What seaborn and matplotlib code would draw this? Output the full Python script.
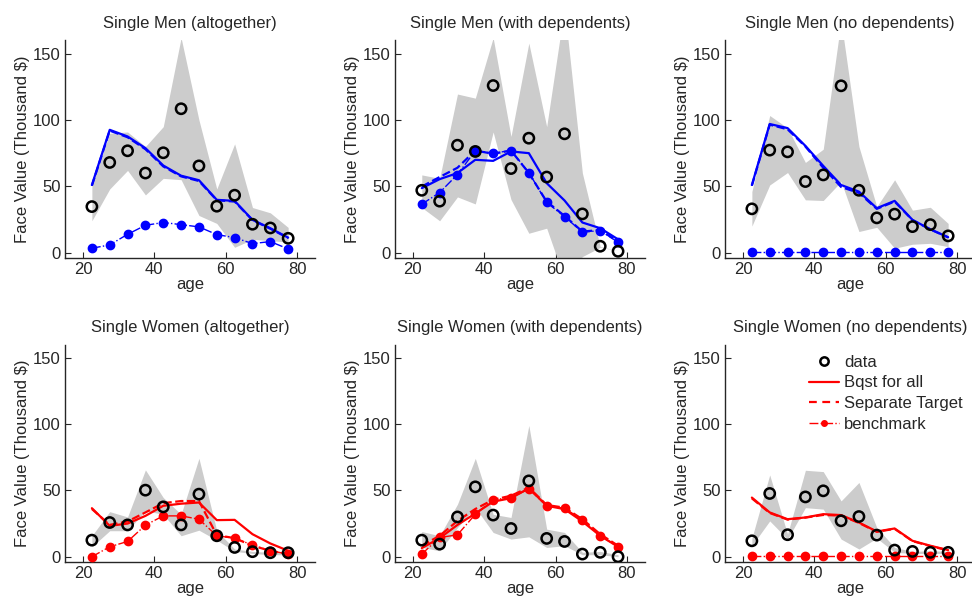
import matplotlib
matplotlib.use("Agg")
import matplotlib.pyplot as plt
from matplotlib.lines import Line2D
import numpy as np
import seaborn as sns

# --------------------------------------------------------------------------- #
# Data (thousand $), one value per 5-year age group
# --------------------------------------------------------------------------- #
ages = [22.5, 27.5, 32.5, 37.5, 42.5, 47.5, 52.5, 57.5, 62.5, 67.5, 72.5, 77.5]

titles = [
    "Single Men (altogether)", "Single Men (with dependents)", "Single Men (no dependents)",
    "Single Women (altogether)", "Single Women (with dependents)", "Single Women (no dependents)",
]

men_all_data = [34.7, 68, 76.8, 60, 75.3, 108.5, 65.4, 35, 43.3, 21.4, 18.6, 10.8]
men_all_bqst = [51, 92.6, 87.6, 78.8, 65.7, 58, 54.6, 39.8, 39, 24.7, 18.4, 11.3]
men_all_sep = [50.5, 92, 87, 78, 65, 57.5, 54, 39.5, 38.5, 24.5, 18, 11]
men_all_bench = [3.3, 5.8, 13.8, 20.6, 22.7, 21.1, 19.4, 13.6, 11.3, 6.8, 8.3, 2.8]
men_all_hi = [51, 90, 91, 80, 95, 162, 100, 48, 82, 34, 30, 19]
men_all_lo = [24, 48, 62, 43.5, 56, 55, 28, 22, 4, 10, 9, 8]

men_dep_data = [47, 38.8, 81, 76.3, 126, 63.4, 86.3, 57, 89.6, 29.2, 4.8, 1]
men_dep_bqst = [48.6, 55.4, 60, 70, 69.2, 76.3, 75, 52.4, 39.3, 22.7, 18.4, 10]
men_dep_sep = [49.8, 57, 64, 77, 74.5, 77, 60, 38.5, 27.7, 15.9, 17, 8.3]
men_dep_bench = [36.5, 45.3, 58.9, 76.8, 75, 77, 60.4, 37.8, 27.2, 15.4, 16.6, 7.8]
men_dep_hi = [58.6, 56, 119.6, 116.5, 162, 87.6, 158, 95, 185, 60, 4.5, 1.5]
men_dep_lo = [34, 24, 42, 36.7, 91, 40, 14.6, 18.4, -20, -3, 4, 1.5]

men_nod_data = [33, 77.3, 76, 53.6, 58.6, 125.8, 47, 26.2, 29, 19.6, 21.1, 12.6]
men_nod_bqst = [51, 97, 93.9, 80.5, 65.4, 51, 46, 33.5, 39, 24.7, 17.6, 11.6]
men_nod_sep = [50.5, 96.5, 93, 80, 64, 49.5, 45, 33, 38.5, 24.5, 17.5, 11.5]
men_nod_bench = [0.3, 0.3, 0.3, 0.3, 0.3, 0.3, 0.3, 0.3, 0.3, 0.3, 0.3, 0.3]
men_nod_hi = [46, 103.4, 94, 68, 78, 175, 80, 34.7, 54.9, 32, 34.2, 22]
men_nod_lo = [20, 51, 60.4, 39.8, 39.3, 53.6, 15.9, 19.1, 3.3, 6.3, 7, 4.5]

wom_all_data = [12.5, 25.8, 24, 50.2, 37.6, 24, 47.2, 15.8, 7, 3.8, 3, 3]
wom_all_bqst = [36.6, 23.3, 25, 30.8, 38.4, 40, 40.9, 27.6, 27.8, 17, 10, 4.5]
wom_all_sep = [36, 24, 26.6, 33.4, 40.4, 42, 42, 16.3, 14, 8.3, 4.5, 2]
wom_all_bench = [0, 7.5, 11.5, 23.8, 30.8, 30.8, 28.3, 15.8, 14, 8.8, 4.5, 2]
wom_all_hi = [15.8, 34, 30, 65.5, 44.6, 32, 74.2, 19.6, 5.8, 4, 3.3, 3.3]
wom_all_lo = [7.5, 19.6, 19.6, 34.6, 32, 15.8, 20, 12.5, 4, 2.5, 1.5, 1.5]

wom_dep_data = [12.5, 9.5, 30, 52.7, 31.4, 21.3, 57.2, 13.8, 11.5, 2, 3.3, 0]
wom_dep_bqst = [6.5, 14, 24, 32.6, 41.6, 44.1, 51.7, 38.4, 35.9, 26.6, 15.8, 7.5]
wom_dep_sep = [8.3, 15.8, 27, 36, 43, 46, 52.2, 39, 37, 28.3, 17, 8.3]
wom_dep_bench = [2, 14.5, 16.5, 32, 43, 44.6, 51, 38.4, 36.6, 27.8, 15.8, 7.5]
wom_dep_hi = [19, 15.8, 39.6, 74.2, 32, 29.6, 99, 20.8, 18.3, 3.3, 4, 1.5]
wom_dep_lo = [7, 4.5, 22, 37, 18.3, 13.3, 15, 7, 8.3, 1.5, 1.5, 0]

wom_nod_data = [12, 47.7, 16.6, 45.1, 49.7, 27.1, 30.3, 16.3, 5, 4, 3.3, 3.3]
wom_nod_bqst = [44.6, 33.4, 28.3, 29.6, 32.1, 31.4, 25.8, 19, 21.3, 12, 8.3, 5]
wom_nod_sep = [44, 33, 28, 29.5, 31.5, 31, 25.5, 18.8, 21, 11.8, 8, 4.8]
wom_nod_bench = [0.3, 0.3, 0.3, 0.3, 0.3, 0.3, 0.3, 0.3, 0.3, 0.3, 0.3, 0.3]
wom_nod_hi = [14, 61.7, 17, 65.2, 64.2, 42.1, 56, 22, 7, 4, 4.5, 4]
wom_nod_lo = [8.3, 27, 13.3, 37, 35.9, 13.3, 5.8, 14, 3.3, 2.5, 2.5, 2.5]

panels = [
    (men_all_data, men_all_bqst, men_all_sep, men_all_bench, men_all_hi, men_all_lo),
    (men_dep_data, men_dep_bqst, men_dep_sep, men_dep_bench, men_dep_hi, men_dep_lo),
    (men_nod_data, men_nod_bqst, men_nod_sep, men_nod_bench, men_nod_hi, men_nod_lo),
    (wom_all_data, wom_all_bqst, wom_all_sep, wom_all_bench, wom_all_hi, wom_all_lo),
    (wom_dep_data, wom_dep_bqst, wom_dep_sep, wom_dep_bench, wom_dep_hi, wom_dep_lo),
    (wom_nod_data, wom_nod_bqst, wom_nod_sep, wom_nod_bench, wom_nod_hi, wom_nod_lo),
]

BLUE = "#0000ff"
RED = "#ff0000"
BAND = "#cccccc"

sns.set_theme(style="ticks")
plt.rcParams["font.family"] = ["Liberation Sans", "DejaVu Sans"]
plt.rcParams["font.size"] = 12
plt.rcParams["xtick.direction"] = "in"
plt.rcParams["ytick.direction"] = "in"

fig = plt.figure(figsize=(9.72, 6.04), dpi=100)
lefts = [0.067, 0.4064, 0.746]
bottoms = [0.573, 0.0695]
W, H = 0.257, 0.36

for i, (title, vals) in enumerate(zip(titles, panels)):
    data, bqst, sep, bench, hi, lo = vals
    ax = fig.add_axes([lefts[i % 3], bottoms[i // 3], W, H])
    color = BLUE if i < 3 else RED
    x = np.asarray(ages)

    ax.fill_between(x, lo, hi, color=BAND, linewidth=0, zorder=1)
    sns.lineplot(x=x, y=bqst, ax=ax, color=color, linewidth=1.6, zorder=3)
    sns.lineplot(x=x, y=sep, ax=ax, color=color, linewidth=1.6,
                 linestyle="--", dashes=(3.5, 2.5), zorder=3)
    ax.plot(x, bench, color=color, linewidth=1.0, linestyle="-.",
            marker="o", markersize=6, zorder=3)
    sns.scatterplot(x=x, y=data, ax=ax, s=55, facecolor="none",
                    edgecolor="black", linewidth=1.8, zorder=4)

    ax.set_xlim(15, 85)
    ax.set_ylim(-4, 160)
    ax.set_xticks([20, 40, 60, 80])
    ax.set_yticks([0, 50, 100, 150])
    ax.tick_params(labelsize=12, length=4, width=0.8, colors="#262626", pad=3)
    for s in ("top", "right"):
        ax.spines[s].set_visible(False)
    for s in ("left", "bottom"):
        ax.spines[s].set_color("#262626")
        ax.spines[s].set_linewidth(1.0)
    ax.set_xlabel("age", fontsize=12, labelpad=0)
    ax.set_ylabel(r"Face Value (Thousand \$)", fontsize=12, labelpad=2)
    ax.set_title(title, fontsize=12, pad=9)

handles = [
    Line2D([], [], linestyle="none", marker="o", markerfacecolor="none",
           markeredgecolor="black", markeredgewidth=1.8, markersize=6),
    Line2D([], [], color=RED, linewidth=1.6),
    Line2D([], [], color=RED, linewidth=1.6, linestyle="--", dashes=(3.5, 2.5)),
    Line2D([], [], color=RED, linewidth=1.0, linestyle="-.", marker="o", markersize=4),
]
ax.legend(handles, ["data", "Bqst for all", "Separate Target", "benchmark"],
          loc="upper right", bbox_to_anchor=(0.99, 1.0), frameon=False,
          fontsize=12, handlelength=1.8, handletextpad=0.3, labelspacing=0.35,
          borderaxespad=0.2)

fig.savefig("out.png", dpi=100)
